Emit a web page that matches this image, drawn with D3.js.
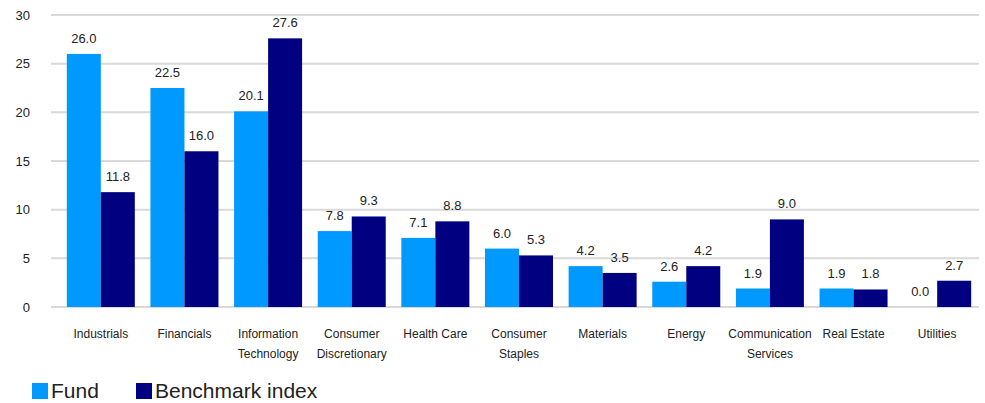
<!DOCTYPE html>
<html lang="en">
<head>
	<script src="https://d3js.org/d3.v7.min.js"></script>
	<style>
		body { margin: 0; background: #fff; }
		text { font-family: "Liberation Sans", Arial, sans-serif; fill: #222; }
	</style>
</head>
<body>
	<script type="text/javascript">

		var categories = ["Industrials", "Financials", "Information Technology", "Consumer Discretionary",
			"Health Care", "Consumer Staples", "Materials", "Energy", "Communication Services",
			"Real Estate", "Utilities"];
		// category labels split onto two lines like the original
		var labelLines = [["Industrials"], ["Financials"], ["Information", "Technology"], ["Consumer", "Discretionary"],
			["Health Care"], ["Consumer", "Staples"], ["Materials"], ["Energy"], ["Communication", "Services"],
			["Real Estate"], ["Utilities"]];
		var fundValues = [26.0, 22.5, 20.1, 7.8, 7.1, 6.0, 4.2, 2.6, 1.9, 1.9, 0.0];
		var benchValues = [11.8, 16.0, 27.6, 9.3, 8.8, 5.3, 3.5, 4.2, 9.0, 1.8, 2.7];
		var seriesNames = ["Fund", "Benchmark index"];
		var yTicks = [0, 5, 10, 15, 20, 25, 30];

		var svgWidth = 985;
		var svgHeight = 403;
		var colors = ["#0099ff", "#000080"];

		var svg = d3.select("body")
			.append("svg")
			.attr("width", svgWidth)
			.attr("height", svgHeight);

		var x = d3.scaleBand()
			.domain(categories)
			.range([59, 979])
			.paddingInner(0)
			.paddingOuter(0);

		var y = d3.scaleLinear()
			.domain([0, 30])
			.range([307, 15]);

		var barW = 34;

		//gridlines
		svg.append("g")
			.selectAll("line")
			.data(yTicks)
			.enter()
			.append("line")
				.attr("x1", 51)
				.attr("x2", 979)
				.attr("y1", function(d) { return y(d); })
				.attr("y2", function(d) { return y(d); })
				.attr("stroke", "#d9d9d9")
				.attr("stroke-width", 2);

		//y axis labels
		var yAxis = d3.axisLeft(y)
			.tickValues(yTicks)
			.tickSize(0)
			.tickPadding(0);
		var yg = svg.append("g")
			.attr("transform", "translate(30,0)")
			.call(yAxis);
		yg.select(".domain").remove();
		yg.selectAll("text")
			.style("font-size", "13px")
			.attr("font-family", null)
			.attr("fill", "#222");

		//bars
		var seriesData = [fundValues, benchValues];
		seriesData.forEach(function(vals, s) {
			svg.append("g")
				.selectAll("rect")
				.data(vals)
				.enter()
				.append("rect")
					.attr("fill", colors[s])
					.attr("x", function(d, i) { return x(categories[i]) + x.bandwidth() / 2 - barW + s * barW; })
					.attr("y", function(d) { return y(d); })
					.attr("width", barW)
					.attr("height", function(d) { return y(0) - y(d); });

			svg.append("g")
				.selectAll("text")
				.data(vals)
				.enter()
				.append("text")
					.attr("x", function(d, i) { return x(categories[i]) + x.bandwidth() / 2 - barW / 2 + s * barW; })
					.attr("y", function(d) { return y(d) - 11; })
					.attr("text-anchor", "middle")
					.style("font-size", "13px")
					.text(function(d) { return d.toFixed(1); });
		});

		//category labels
		var catLabels = svg.append("g")
			.selectAll("text")
			.data(categories)
			.enter()
			.append("text")
				.attr("x", function(d) { return x(d) + x.bandwidth() / 2; })
				.attr("y", 338)
				.attr("text-anchor", "middle")
				.style("font-size", "12px");
		catLabels.each(function(d, i) {
			var t = d3.select(this);
			labelLines[i].forEach(function(line, j) {
				t.append("tspan")
					.attr("x", x(d) + x.bandwidth() / 2)
					.attr("dy", j === 0 ? 0 : 20)
					.text(line);
			});
		});

		//legend
		var legendX = [32, 136];
		var legend = svg.append("g");
		seriesNames.forEach(function(name, i) {
			legend.append("rect")
				.attr("x", legendX[i])
				.attr("y", 383)
				.attr("width", 16)
				.attr("height", 16)
				.attr("fill", colors[i]);
			legend.append("text")
				.attr("x", legendX[i] + 19)
				.attr("y", 398)
				.style("font-size", "21px")
				.text(name);
		});

	</script>
</body>
</html>
